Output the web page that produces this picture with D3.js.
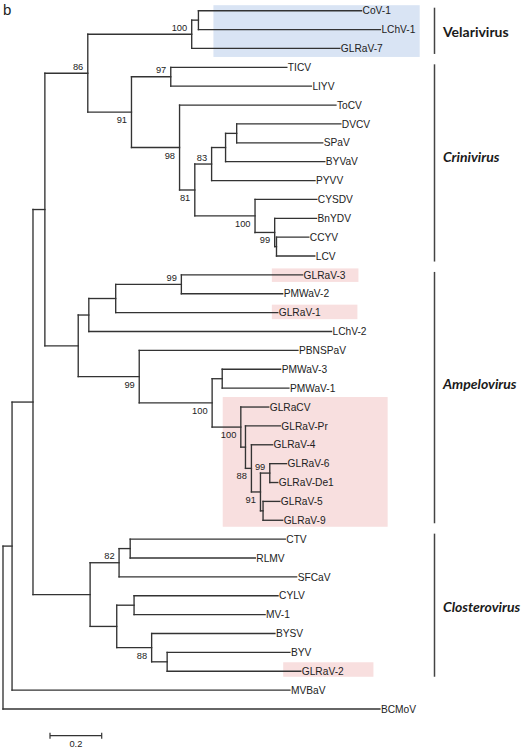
<!DOCTYPE html>
<html>
<head>
<meta charset="utf-8">
<script src="https://cdn.jsdelivr.net/npm/d3@7"></script>
<style>
  html, body { margin: 0; padding: 0; background: #fff; }
  svg { display: block; }
</style>
</head>
<body>
<svg id="chart" width="530" height="750"></svg>
<script>
// ---------------- DATA ----------------
// tree edges: [node, parent, branch length (substitutions/site)]
const edges = [
  ["root", "", 0],
  ["A", "root", 0.035],
  ["B", "A", 0.081],
  ["C", "B", 0.046],
  ["D", "C", 0.166],
  ["E", "D", 0.402],
  ["F", "E", 0.026],
  ["CoV-1", "F", 0.631],
  ["LChV-1", "F", 0.704],
  ["GLRaV-7", "E", 0.573],
  ["G", "D", 0.169],
  ["H", "G", 0.152],
  ["TICV", "H", 0.449],
  ["LIYV", "H", 0.544],
  ["I", "G", 0.186],
  ["ToCV", "I", 0.605],
  ["J", "I", 0.059],
  ["K", "J", 0.065],
  ["L", "K", 0.054],
  ["M", "L", 0.043],
  ["DVCV", "M", 0.403],
  ["SPaV", "M", 0.333],
  ["BYVaV", "L", 0.384],
  ["PYVV", "K", 0.400],
  ["N", "J", 0.233],
  ["CYSDV", "N", 0.239],
  ["O", "N", 0.076],
  ["BnYDV", "O", 0.162],
  ["P", "O", 0.007],
  ["CCYV", "P", 0.125],
  ["LCV", "P", 0.148],
  ["T", "C", 0.129],
  ["S", "T", 0.041],
  ["R", "S", 0.104],
  ["Q", "R", 0.254],
  ["GLRaV-3", "Q", 0.469],
  ["PMWaV-2", "Q", 0.392],
  ["GLRaV-1", "R", 0.627],
  ["LChV-2", "S", 0.939],
  ["U", "T", 0.236],
  ["PBNSPaV", "U", 0.614],
  ["V", "U", 0.282],
  ["W", "V", 0.039],
  ["PMWaV-3", "W", 0.226],
  ["PMWaV-1", "W", 0.258],
  ["X", "V", 0.111],
  ["GLRaCV", "X", 0.108],
  ["Y", "X", 0.018],
  ["GLRaV-Pr", "Y", 0.135],
  ["Z", "Y", 0.023],
  ["GLRaV-4", "Z", 0.082],
  ["AA", "Z", 0.035],
  ["AB", "AA", 0.036],
  ["GLRaV-6", "AB", 0.065],
  ["GLRaV-De1", "AB", 0.031],
  ["AC", "AA", 0.010],
  ["GLRaV-5", "AC", 0.065],
  ["GLRaV-9", "AC", 0.076],
  ["AD", "B", 0.221],
  ["AE", "AD", 0.112],
  ["AF", "AE", 0.043],
  ["CTV", "AF", 0.600],
  ["RLMV", "AF", 0.484],
  ["SFCaV", "AE", 0.687],
  ["AG", "AD", 0.103],
  ["AH", "AG", 0.067],
  ["CYLV", "AH", 0.557],
  ["MV-1", "AH", 0.507],
  ["AI", "AG", 0.135],
  ["BYSV", "AI", 0.477],
  ["AJ", "AI", 0.060],
  ["BYV", "AJ", 0.475],
  ["GLRaV-2", "AJ", 0.517],
  ["MVBaV", "A", 1.075],
  ["BCMoV", "root", 1.458]
];

// bootstrap support values at internal nodes
const bootstrap = [
  ["E", 100], ["D", 86], ["G", 91], ["H", 97], ["I", 98], ["K", 83],
  ["J", 81], ["N", 100], ["O", 99], ["Q", 99], ["U", 99], ["V", 100],
  ["X", 100], ["Z", 88], ["AB", 99], ["AA", 91], ["AE", 82], ["AI", 88]
];

// genera (clade bars): [name, first leaf, last leaf, italic]
const clades = [
  ["Velarivirus", "CoV-1", "GLRaV-7", false],
  ["Crinivirus", "TICV", "LCV", true],
  ["Ampelovirus", "GLRaV-3", "GLRaV-9", true],
  ["Closterovirus", "CTV", "GLRaV-2", true]
];

// shaded groups: [first leaf, last leaf, colour key]
const highlights = [
  ["CoV-1", "GLRaV-7", "blue"],
  ["GLRaV-3", "GLRaV-3", "pink"],
  ["GLRaV-1", "GLRaV-1", "pink"],
  ["GLRaCV", "GLRaV-9", "pink"],
  ["GLRaV-2", "GLRaV-2", "pink"]
];

const scaleBarValue = 0.2;
const panelLetter = "b";

// ---------------- LAYOUT / STYLE ----------------
const lineColor = "#333";
const fills = { blue: "#d9e4f4", pink: "#f8dfdf" };
// horizontal extents of shaded boxes, in tree units (same x scale)
const hlX = [[0.814, 1.612], [1.040, 1.375], [1.040, 1.371], [0.850, 1.488], [1.084, 1.433]];
const hlPad = [[5.5, 8.5], [6.5, 7], [8, 6.5], [10, 6.5], [9, 5.5]];

const svg = d3.select("#chart");

const root = d3.stratify()
  .id(d => d[0])
  .parentId(d => d[1] === "" ? null : d[1])(edges);

root.each(n => { n.len = n.data[2]; n.depthLen = (n.parent ? n.parent.depthLen : 0) + n.len; });

const leaves = root.leaves();
const x = d3.scaleLinear().domain([0, 1]).range([3, 261.5]);
const y = d3.scalePoint().domain(leaves.map(d => d.id)).range([10.7, 709]);

root.eachAfter(n => {
  if (!n.children) n.py = y(n.id);
  else n.py = (n.children[0].py + n.children[n.children.length - 1].py) / 2;
  n.px = x(n.depthLen);
});

// shaded boxes
svg.append("g").selectAll("rect").data(highlights).join("rect")
  .attr("x", (d, i) => x(hlX[i][0]))
  .attr("width", (d, i) => x(hlX[i][1]) - x(hlX[i][0]))
  .attr("y", (d, i) => y(d[0]) - hlPad[i][0])
  .attr("height", (d, i) => y(d[1]) + hlPad[i][1] - (y(d[0]) - hlPad[i][0]))
  .attr("fill", d => fills[d[2]]);

// branches
const gTree = svg.append("g")
  .attr("stroke", lineColor).attr("stroke-width", 1.35)
  .attr("fill", "none").attr("stroke-linecap", "square");

const nodes = root.descendants();
gTree.selectAll("line.h").data(nodes.filter(n => n.parent)).join("line")
  .attr("class", "h")
  .attr("x1", n => n.parent.px).attr("x2", n => n.px)
  .attr("y1", n => n.py).attr("y2", n => n.py);

gTree.selectAll("line.v").data(nodes.filter(n => n.children)).join("line")
  .attr("class", "v")
  .attr("x1", n => n.px).attr("x2", n => n.px)
  .attr("y1", n => n.children[0].py)
  .attr("y2", n => n.children[n.children.length - 1].py);

// leaf labels
svg.append("g").selectAll("text").data(leaves).join("text")
  .attr("x", n => n.px + 1)
  .attr("y", n => n.py)
  .attr("dy", "0.36em")
  .attr("font-family", "'Liberation Sans', Arial, sans-serif")
  .attr("font-size", 10.2)
  .attr("fill", "#222")
  .text(n => n.id);

// bootstrap labels
const nodeById = new Map(nodes.map(n => [n.id, n]));
svg.append("g").selectAll("text").data(bootstrap).join("text")
  .each(function (d) {
    const n = nodeById.get(d[0]);
    const above = n.parent.children[0] === n;
    d3.select(this)
      .attr("x", n.px - 4.5)
      .attr("y", above ? n.py - 3.5 : n.py + 11);
  })
  .attr("text-anchor", "end")
  .attr("font-family", "'Liberation Sans', Arial, sans-serif")
  .attr("font-size", 9.3)
  .attr("fill", "#222")
  .text(d => d[1]);

// clade bars and names
const barX = 434.5;
const cladeLabelY = [32.3, 156.7, 384.3, 607.3];
const gC = svg.append("g");
gC.selectAll("line").data(clades).join("line")
  .attr("x1", barX).attr("x2", barX)
  .attr("y1", d => y(d[1]) - (d[0] === "Closterovirus" ? 5.5 : 3))
  .attr("y2", d => y(d[2]) + (d[0] === "Ampelovirus" ? 3 : 5.5))
  .attr("stroke", "#444").attr("stroke-width", 1.5);
gC.selectAll("text").data(clades).join("text")
  .attr("x", 443)
  .attr("y", (d, i) => cladeLabelY[i])
  .attr("dy", "0.35em")
  .attr("font-family", "Lato, 'Open Sans', sans-serif")
  .attr("font-weight", "bold")
  .attr("font-style", d => d[3] ? "italic" : "normal")
  .attr("font-size", 14)
  .attr("fill", "#1a1a1a")
  .text(d => d[0]);

// scale bar
const sb = svg.append("g").attr("stroke", lineColor).attr("stroke-width", 1.2);
const sbY = 735.7;
sb.append("line").attr("x1", x(0) + 47).attr("x2", x(scaleBarValue) + 47).attr("y1", sbY).attr("y2", sbY);
sb.append("line").attr("x1", x(0) + 47).attr("x2", x(0) + 47).attr("y1", sbY - 3).attr("y2", sbY + 3);
sb.append("line").attr("x1", x(scaleBarValue) + 47).attr("x2", x(scaleBarValue) + 47).attr("y1", sbY - 3).attr("y2", sbY + 3);
svg.append("text")
  .attr("x", (x(0) + x(scaleBarValue)) / 2 + 47)
  .attr("y", 747)
  .attr("text-anchor", "middle")
  .attr("font-family", "'Liberation Sans', Arial, sans-serif")
  .attr("font-size", 9.3)
  .attr("fill", "#222")
  .text(scaleBarValue);

// panel letter
svg.append("text")
  .attr("x", 3).attr("y", 15)
  .attr("font-family", "'Liberation Sans', Arial, sans-serif")
  .attr("font-size", 15)
  .attr("fill", "#222")
  .text(panelLetter);
</script>
</body>
</html>
